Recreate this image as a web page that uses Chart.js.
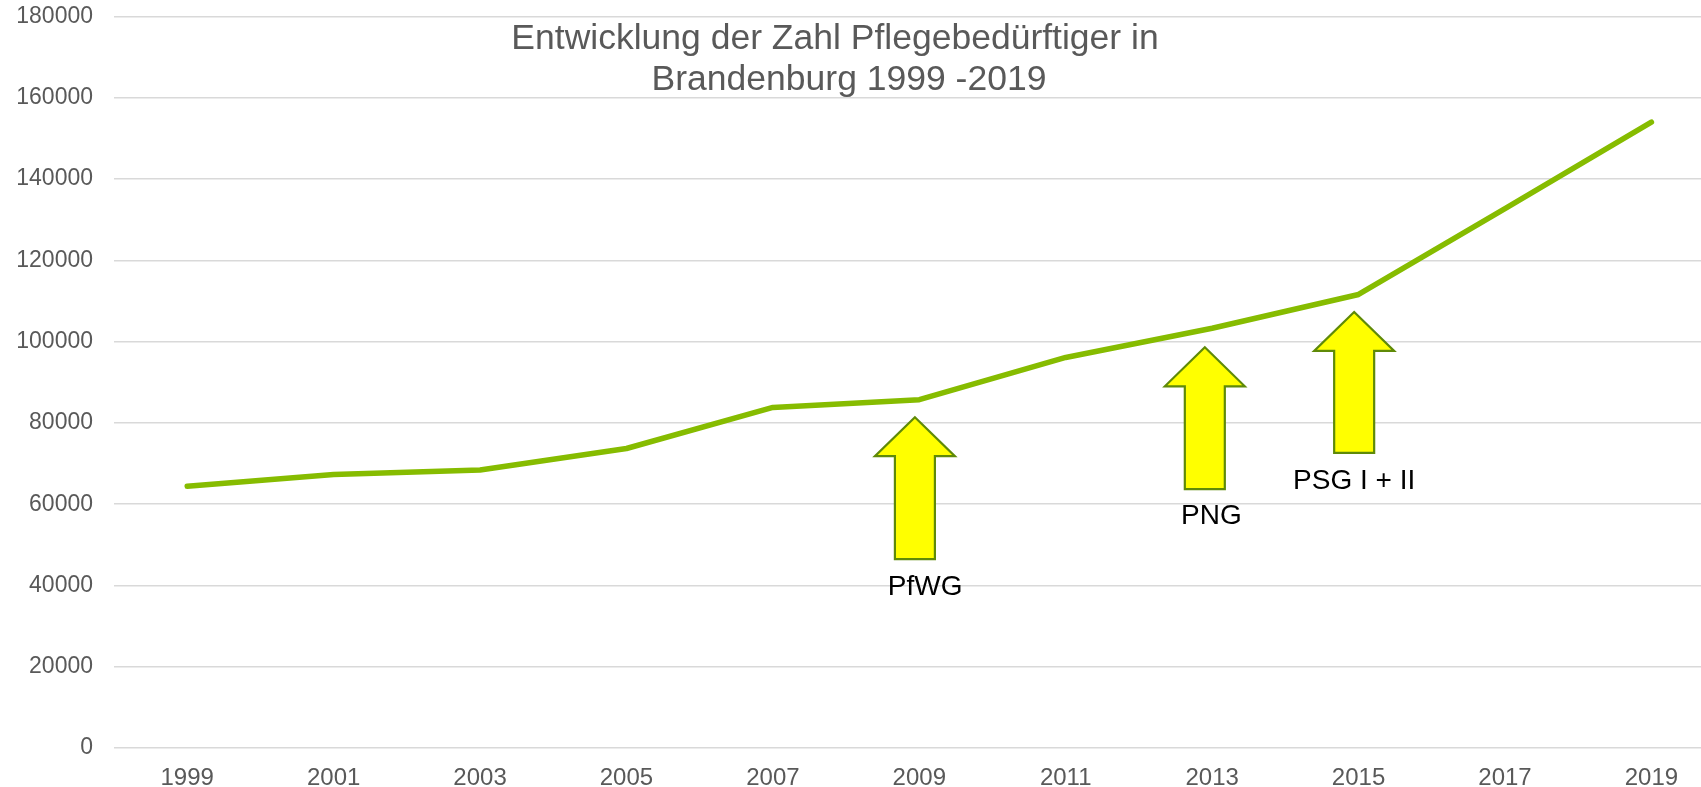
<!DOCTYPE html>
<html>
<head>
<meta charset="utf-8">
<script src="https://cdn.jsdelivr.net/npm/chart.js@4"></script>
<style>
html,body{margin:0;padding:0;overflow:hidden;background:#fff;width:1701px;height:787px;}
#wrap{position:absolute;left:0;top:0;width:1730px;height:787px;}
</style>
</head>
<body>
<div id="wrap"><canvas id="c" width="1730" height="787"></canvas></div>
<script>
// ---- data ----
const years = ['1999','2001','2003','2005','2007','2009','2011','2013','2015','2017','2019'];
const careNeeders = [64400, 67300, 68400, 73700, 83800, 85700, 96100, 103300, 111600, 132700, 154000];
const yTicksMax = 180000;
const yTickStep = 20000;
const titleLines = ['Entwicklung der Zahl Pflegebedürftiger in', 'Brandenburg 1999 -2019'];

// annotations (arrows marking reforms)
const noteLabels = ['PfWG', 'PNG', 'PSG I + II'];
const noteArrowX = [4.97, 6.95, 7.97];        // category index position
const noteArrowTip = [81400, 98600, 107300];  // value at arrow tip
const noteArrowBase = [46500, 63700, 72600];  // value at arrow bottom
const noteLabelX = [5.04, 6.995, 7.97];
const noteLabelY = [39600, 57100, 65700];

const FONT = '"Liberation Sans", Arial, sans-serif';

const overlay = {
  id: 'overlay',
  afterDatasetsDraw(chart) {
    const ctx = chart.ctx;
    const xs = chart.scales.x, ys = chart.scales.y;
    ctx.save();
    for (let i = 0; i < noteLabels.length; i++) {
      const x = xs.getPixelForValue(noteArrowX[i]);
      const yt = ys.getPixelForValue(noteArrowTip[i]);
      const yb = ys.getPixelForValue(noteArrowBase[i]);
      const headLen = 39, headHalf = 40, shaftHalf = 20;
      ctx.beginPath();
      ctx.moveTo(x, yt);
      ctx.lineTo(x + headHalf, yt + headLen);
      ctx.lineTo(x + shaftHalf, yt + headLen);
      ctx.lineTo(x + shaftHalf, yb);
      ctx.lineTo(x - shaftHalf, yb);
      ctx.lineTo(x - shaftHalf, yt + headLen);
      ctx.lineTo(x - headHalf, yt + headLen);
      ctx.closePath();
      ctx.fillStyle = '#FFFF00';
      ctx.fill();
      ctx.lineWidth = 2.2;
      ctx.strokeStyle = '#5F8A08';
      ctx.lineJoin = 'miter';
      ctx.stroke();

      ctx.fillStyle = '#000000';
      ctx.font = '28px ' + FONT;
      ctx.textAlign = 'center';
      ctx.textBaseline = 'middle';
      ctx.fillText(noteLabels[i], xs.getPixelForValue(noteLabelX[i]), ys.getPixelForValue(noteLabelY[i]));
    }
    // title drawn over the plot area
    ctx.fillStyle = '#595959';
    ctx.font = '35.5px ' + FONT;
    ctx.textAlign = 'center';
    ctx.textBaseline = 'middle';
    ctx.fillText(titleLines[0], 835, 39);
    ctx.fillText(titleLines[1], 849, 80);
    ctx.restore();
  }
};

new Chart(document.getElementById('c'), {
  type: 'line',
  data: {
    labels: years,
    datasets: [{
      data: careNeeders,
      borderColor: '#86BC00',
      borderWidth: 5.5,
      pointRadius: 0,
      pointHoverRadius: 0,
      tension: 0,
      fill: false,
      borderCapStyle: 'round',
      borderJoinStyle: 'round'
    }]
  },
  options: {
    responsive: false,
    animation: false,
    devicePixelRatio: 1,
    layout: { padding: { left: 0, right: 5.4, top: 16.5, bottom: 0 } },
    plugins: { legend: { display: false }, title: { display: false }, tooltip: { enabled: false } },
    scales: {
      x: {
        type: 'category',
        offset: true,
        grid: { display: false, drawTicks: false },
        border: { display: false },
        ticks: { color: '#595959', font: { family: FONT, size: 24 }, padding: 16, maxRotation: 0, autoSkip: false },
        afterFit(scale) { scale.height = 39; scale.paddingLeft = 0; scale.paddingRight = 0; }
      },
      y: {
        min: 0,
        max: yTicksMax,
        grid: { color: '#D9D9D9', lineWidth: 1.5, drawTicks: false },
        border: { display: false },
        ticks: {
          stepSize: yTickStep, color: '#595959', font: { family: FONT, size: 23 }, padding: 21,
          callback: (v) => String(v)
        },
        afterFit(scale) { scale.width = 114; scale.paddingTop = 0; scale.paddingBottom = 0; }
      }
    }
  },
  plugins: [overlay]
});
</script>
</body>
</html>
